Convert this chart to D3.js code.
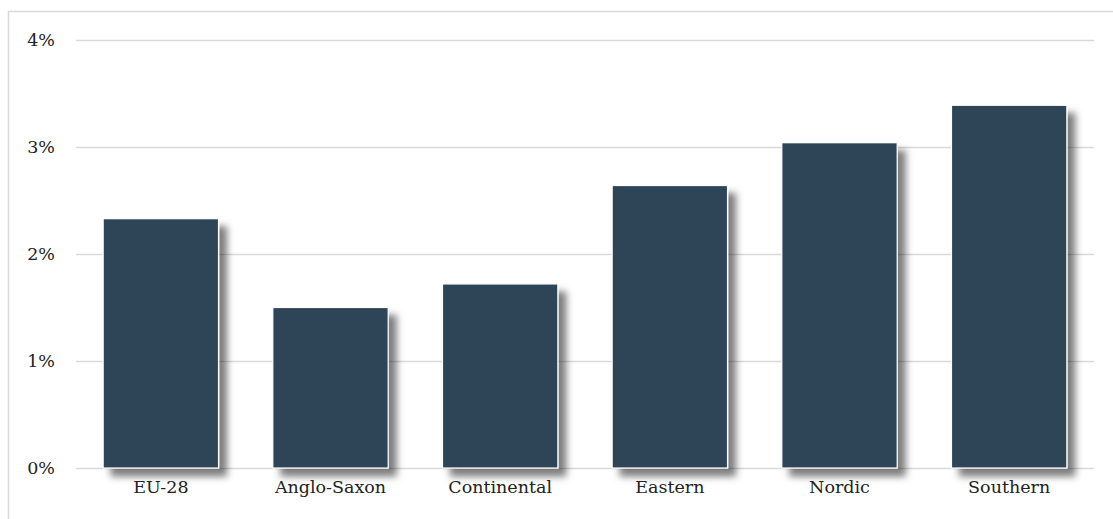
<!DOCTYPE html>
<html>
<head>
<meta charset="utf-8">
<script src="https://cdn.jsdelivr.net/npm/d3@7"></script>
<style>
  body { margin: 0; background: #fff; }
</style>
</head>
<body>
<div id="chart"></div>
<script>
"use strict";

// regions and their values (percent)
const regions = ["EU-28", "Anglo-Saxon", "Continental", "Eastern", "Nordic", "Southern"];
const values = [2.33, 1.50, 1.72, 2.64, 3.04, 3.39];
const yTicks = [0, 1, 2, 3, 4];

const width = 1113, height = 519;
const margin = { top: 40, right: 19, bottom: 51, left: 76 };
const font = "'DejaVu Serif', serif";

const svg = d3.select("#chart")
  .append("svg")
  .attr("width", width)
  .attr("height", height);

// drop shadow for bars
const defs = svg.append("defs");
const filter = defs.append("filter")
  .attr("id", "shadow")
  .attr("x", "-20%").attr("y", "-20%")
  .attr("width", "150%").attr("height", "150%");
filter.append("feDropShadow")
  .attr("dx", 8).attr("dy", 8)
  .attr("stdDeviation", 3.5)
  .attr("flood-color", "#000")
  .attr("flood-opacity", 0.5);

// outer frame (only left and top visible)
svg.append("path")
  .attr("d", `M8.5,${height} V11.5 H${width}`)
  .attr("fill", "none")
  .attr("stroke", "#d9d9d9")
  .attr("stroke-width", 1.5);

const x = d3.scaleBand()
  .domain(regions)
  .range([margin.left, width - margin.right])
  .paddingInner(0.32)
  .paddingOuter(0.16);

const y = d3.scaleLinear()
  .domain([0, 4])
  .range([height - margin.bottom, margin.top]);

// gridlines + y labels
const yAxis = d3.axisLeft(y)
  .tickValues(yTicks)
  .tickSize(-(width - margin.left - margin.right))
  .tickPadding(21)
  .tickFormat(d => d + "%");

const gy = svg.append("g")
  .attr("transform", `translate(${margin.left},0)`)
  .call(yAxis)
  .attr("font-family", font)
  .attr("font-size", 17.5);
gy.select(".domain").remove();
gy.selectAll(".tick line").attr("stroke", "#d9d9d9").attr("stroke-width", 1.3);
gy.selectAll(".tick text").attr("fill", "#222");

// bars
svg.append("g")
  .selectAll("rect")
  .data(values)
  .enter()
  .append("rect")
  .attr("x", (d, i) => x(regions[i]))
  .attr("y", d => y(d))
  .attr("width", x.bandwidth())
  .attr("height", d => y(0) - y(d))
  .attr("fill", "#2f4558")
  .attr("stroke", "#fff")
  .attr("stroke-width", 1.2)
  .attr("filter", "url(#shadow)");

// x labels
const xAxis = d3.axisBottom(x).tickSize(0).tickPadding(13);
const gx = svg.append("g")
  .attr("transform", `translate(0,${height - margin.bottom})`)
  .call(xAxis)
  .attr("font-family", font)
  .attr("font-size", 17.5);
gx.select(".domain").remove();
gx.selectAll(".tick text").attr("fill", "#222");
</script>
</body>
</html>
